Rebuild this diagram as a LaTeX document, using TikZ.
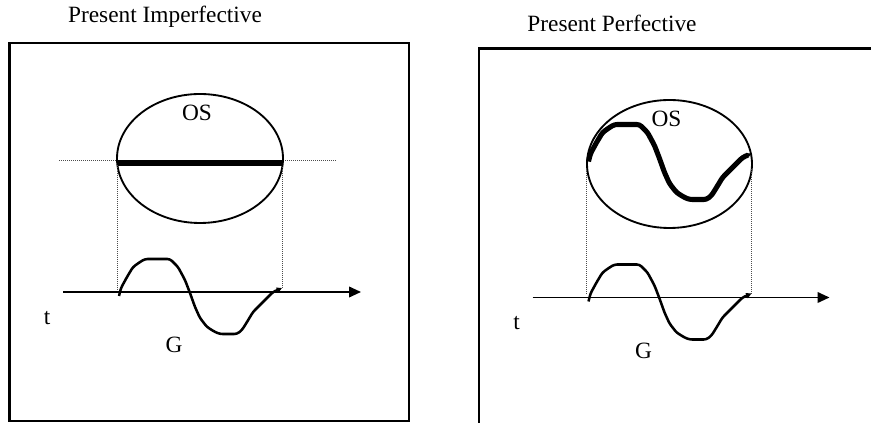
\documentclass[tikz,border=0pt]{standalone}
\usepackage{fontspec}
\setmainfont{Liberation Serif}
\usetikzlibrary{arrows.meta}

% one wave of G, in the panel's own pixel grid
\newcommand{\gwave}[1]{%
  \draw[#1] (119,296) -- (121,288) -- (127,277) -- (133,267) -- (140,262)
    -- (145,259) -- (170,259) -- (178,267) -- (185,280) -- (190,293)
    -- (195,307) -- (200,318) -- (207,327) -- (215,332) -- (220,334)
    -- (237,334) -- (242,330) -- (247,322) -- (253,312) -- (263,302)
    -- (273,292) -- (282,288);}

\begin{document}
\begin{tikzpicture}[x=0.75pt, y=-0.75pt,
    lbl/.style={font=\fontsize{17.5}{21}\selectfont, inner sep=0pt},
    frame/.style={line width=1.9pt},
    guide/.style={densely dotted, line width=0.5pt, black!70},
    oval/.style={line width=1.4pt},
    axis/.style={line width=1.3pt, -{Triangle[length=9pt,width=8pt]}},
    wave/.style={line width=1.9pt, line join=round, rounded corners=2pt,
      -{Triangle[length=4pt,width=4pt]}},
    heavy/.style={line width=3.8pt, line join=round, rounded corners=2pt,
      -{Triangle[length=3pt,width=3pt]}}]

% --- page ---
\clip (0,0) rectangle (871,423);

% --- left panel: present imperfective ---
\node[lbl] (titleL) at (165,17) {Present Imperfective};
\draw[frame] (9.5,43) rectangle (409,421);

\draw[guide] (59,160) -- (337,160);
\draw[oval] (200,158.5) ellipse [x radius=83, y radius=64.5];
\draw[line width=4pt] (117,163) -- (283,163);
\node[lbl] (osL) at (197,113) {OS};

\draw[guide] (117,165) -- (117,290);
\draw[guide] (282,167) -- (282,289);

\coordinate (axL0) at (63,292);
\coordinate (axL1) at (361,292);
\draw[axis] (axL0) -- (axL1);
\gwave{wave}
\node[lbl] (tL) at (47,318) {t};
\node[lbl] (gL) at (174,345) {G};

% --- right panel: present perfective ---
\node[lbl] (titleR) at (612,23) {Present Perfective};

\begin{scope}[shift={(469.5,5.5)}]
  \draw[frame] (9.5,43) rectangle (409,421);

  \draw[oval] (200,158.5) ellipse [x radius=82.5, y radius=64];
  \begin{scope}[shift={(0,-140)}]
    \gwave{heavy}
  \end{scope}
  \node[lbl] (osR) at (197,113) {OS};

  \draw[guide] (117,164) -- (117,290);
  \draw[guide] (282,164) -- (282,289);

  \coordinate (axR0) at (63,292);
  \coordinate (axR1) at (360,292);
  \draw[axis] (axR0) -- (axR1);
  \gwave{wave}
  \node[lbl] (tR) at (47,318) {t};
  \node[lbl] (gR) at (174,345) {G};
\end{scope}

\end{tikzpicture}
\end{document}
